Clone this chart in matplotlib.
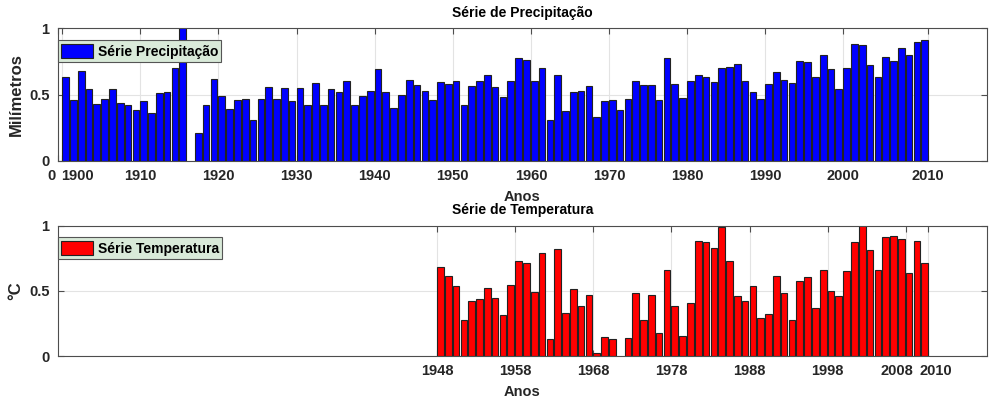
import matplotlib
matplotlib.use("Agg")
import matplotlib.pyplot as plt
import matplotlib.transforms as mtransforms
import numpy as np

# precipitation series (normalised), 1900-2010, 1916 missing
precip_years = list(range(1900, 2011))
precip_values = [
    0.63, 0.46, 0.675, 0.54, 0.43, 0.47, 0.54, 0.44, 0.42, 0.38,
    0.45, 0.36, 0.51, 0.52, 0.70, 1.05, np.nan, 0.21, 0.42, 0.62,
    0.49, 0.39, 0.46, 0.47, 0.31, 0.47, 0.56, 0.47, 0.55, 0.45,
    0.55, 0.42, 0.59, 0.42, 0.544, 0.52, 0.60, 0.42, 0.486, 0.526,
    0.69, 0.52, 0.40, 0.50, 0.61, 0.57, 0.53, 0.456, 0.594, 0.58,
    0.60, 0.42, 0.567, 0.60, 0.647, 0.554, 0.48, 0.60, 0.78, 0.76,
    0.60, 0.70, 0.31, 0.647, 0.375, 0.516, 0.53, 0.567, 0.33, 0.45,
    0.456, 0.38, 0.47, 0.60, 0.57, 0.57, 0.458, 0.78, 0.58, 0.476,
    0.60, 0.647, 0.63, 0.594, 0.70, 0.705, 0.733, 0.60, 0.52, 0.463,
    0.58, 0.667, 0.607, 0.59, 0.756, 0.748, 0.635, 0.80, 0.693, 0.544,
    0.703, 0.88, 0.877, 0.723, 0.635, 0.783, 0.756, 0.85, 0.796, 0.90,
    0.91,
]

# temperature series (normalised), 1948-2010, 1971 missing
temp_years = list(range(1948, 2011))
temp_values = [
    0.681, 0.617, 0.536, 0.278, 0.418, 0.434, 0.52, 0.446, 0.311, 0.548,
    0.73, 0.717, 0.487, 0.793, 0.128, 0.821, 0.329, 0.515, 0.38, 0.464,
    0.02, 0.148, 0.128, np.nan, 0.138, 0.48, 0.278, 0.464, 0.173, 0.658,
    0.38, 0.156, 0.403, 0.885, 0.875, 0.832, 0.99, 0.73, 0.457, 0.423,
    0.533, 0.288, 0.319, 0.61, 0.48, 0.278, 0.574, 0.605, 0.37, 0.66,
    0.497, 0.457, 0.65, 0.875, 1.05, 0.81, 0.663, 0.916, 0.923, 0.895,
    0.638, 0.88, 0.71,
]

precip_ticks = [1899.45] + list(range(1900, 2010, 10)) + [2010.85]
precip_labels = ["0"] + [str(y) for y in range(1900, 2010, 10)] + ["2010"]
temp_ticks = list(range(1948, 2009, 10)) + [2010.85]
temp_labels = [str(y) for y in range(1948, 2009, 10)] + ["2010"]

plt.rcParams["font.family"] = ["Liberation Sans", "DejaVu Sans"]
plt.rcParams["font.weight"] = "bold"
plt.rcParams["font.size"] = 10

BAR_W = 0.85
TXT = "#262626"
SPINE = "#4d4d4d"


def draw_series(ax, years, values, color, label, ticks, ticklabels, title, ylabel):
    years = np.asarray(years, dtype=float)
    values = np.asarray(values, dtype=float)
    ok = ~np.isnan(values)
    ax.bar(years[ok] + BAR_W / 2, values[ok], width=BAR_W, color=color,
           edgecolor="#222222", linewidth=0.8, label=label, zorder=2)
    ax.set_xlim(1899.45, 2018.4)
    ax.set_ylim(0, 1)
    ax.set_yticks([0, 0.5, 1])
    ax.set_yticklabels(["0", "0.5", "1"])
    ax.set_xticks(ticks)
    ax.set_xticklabels(ticklabels)
    ax.grid(True, color="#e3e3e3", linewidth=0.8, zorder=0)
    ax.set_axisbelow(True)
    ax.tick_params(direction="in", top=True, right=True, length=4,
                   colors=SPINE, labelcolor=TXT, labelsize=10.5, pad=6)
    for s in ax.spines.values():
        s.set_color(SPINE)
        s.set_linewidth(0.8)
    ax.set_title(title, fontsize=10, fontweight="bold", color="black", pad=8)
    ax.set_xlabel("Anos", fontsize=10.5, fontweight="bold", color=TXT, labelpad=5)
    ax.set_ylabel(ylabel, fontsize=12, fontweight="bold", color=TXT, labelpad=4)
    leg = ax.legend(loc="upper left", bbox_to_anchor=(0.0, 0.91), borderaxespad=0,
                    fancybox=False, framealpha=1, handlelength=2.3, handleheight=1.2,
                    handletextpad=0.3, borderpad=0.25,
                    prop={"weight": "bold", "size": 10})
    leg.get_frame().set_facecolor("#d9ead9")
    leg.get_frame().set_edgecolor("#555555")
    leg.get_frame().set_linewidth(0.8)


def nudge(label, dx):
    label.set_transform(label.get_transform() +
                        mtransforms.ScaledTranslation(dx / 100, 0, fig.dpi_scale_trans))


fig = plt.figure(figsize=(9.89, 4.0), dpi=100)
ax1 = fig.add_axes([0.0586, 0.598, 0.9394, 0.331])
ax2 = fig.add_axes([0.0586, 0.11, 0.9394, 0.326])

draw_series(ax1, precip_years, precip_values, "#0000ff", "Série Precipitação",
            precip_ticks, precip_labels, "Série de Precipitação", "Milímetros")
draw_series(ax2, temp_years, temp_values, "#ff0000", "Série Temperatura",
            temp_ticks, temp_labels, "Série de Temperatura", "°C")

# crowded labels sit apart, as in the original
labs = ax1.get_xticklabels()
nudge(labs[0], -6)
nudge(labs[1], 15)
labs = ax2.get_xticklabels()
nudge(labs[-2], -9)
nudge(labs[-1], 8)

fig.savefig("out.png", dpi=100)
